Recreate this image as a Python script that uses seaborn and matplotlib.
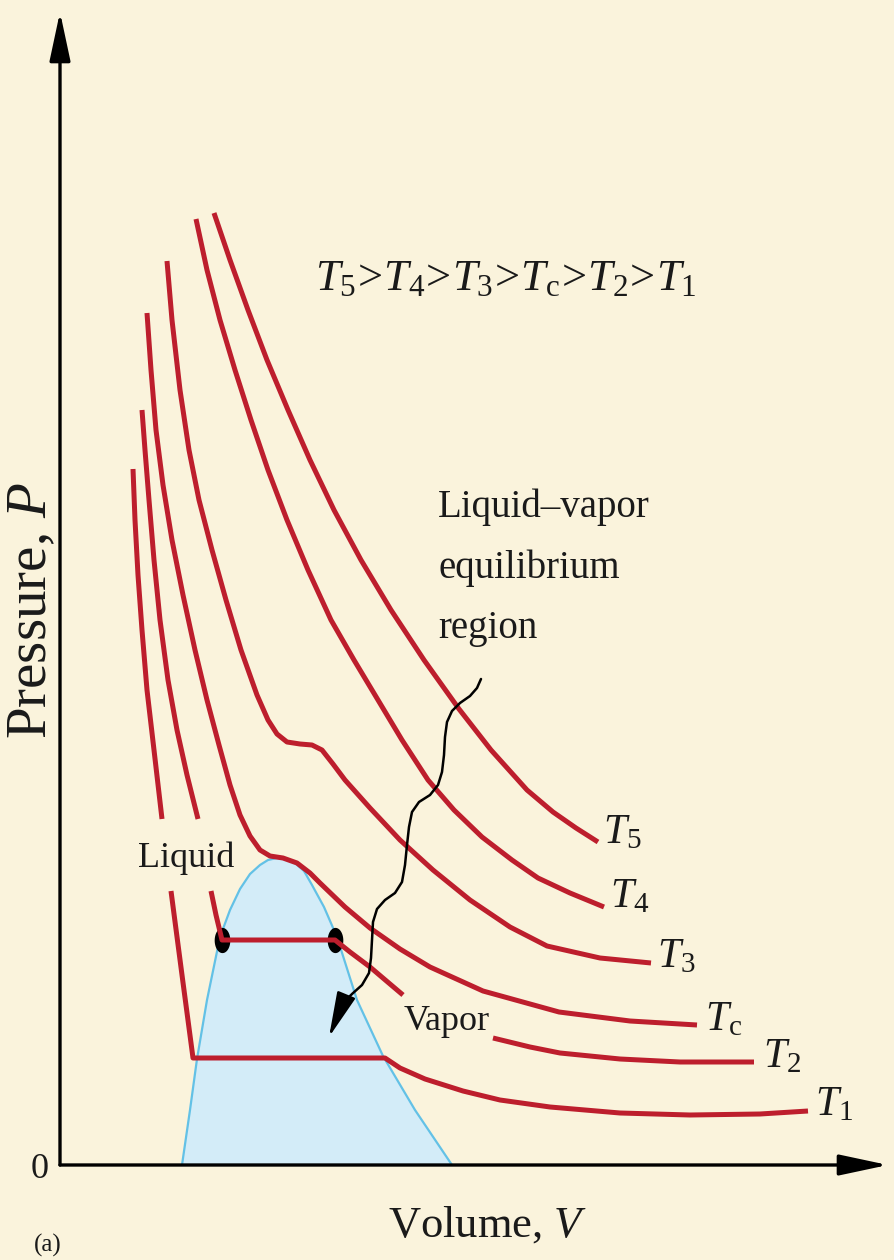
import numpy as np
import pandas as pd
import matplotlib
matplotlib.use("Agg")
import matplotlib.pyplot as plt
import seaborn as sns
from matplotlib.path import Path

# ---- Isotherms of a real gas: volume V and pressure P (arbitrary units) ----
# NaN marks a break in a drawn line (where a label sits on the curve)
nan = np.nan
T5_V = [1.54, 1.70, 1.88, 2.07, 2.28, 2.50, 2.74, 3.01, 3.31, 3.64, 3.99, 4.31, 4.67,
        4.93, 5.16, 5.38]
T5_P = [9.52, 9.05, 8.55, 8.05, 7.55, 7.05, 6.55, 6.05, 5.55, 5.05, 4.56, 4.15, 3.75,
        3.53, 3.37, 3.23]

T4_V = [1.36, 1.47, 1.60, 1.75, 1.91, 2.08, 2.27, 2.48, 2.71, 2.94, 3.18, 3.42, 3.68,
        3.94, 4.22, 4.52, 4.78, 5.10, 5.44]
T4_P = [9.46, 8.95, 8.45, 7.95, 7.45, 6.95, 6.45, 5.95, 5.45, 5.05, 4.65, 4.25, 3.85,
        3.55, 3.28, 3.05, 2.87, 2.72, 2.58]

T3_V = [1.07, 1.12, 1.20, 1.29, 1.39, 1.52, 1.66, 1.81, 1.97, 2.08, 2.17, 2.27, 2.40,
        2.52, 2.62, 2.73, 2.85, 3.10, 3.40, 3.73, 4.10, 4.50, 4.87, 5.40, 5.91]
T3_P = [9.04, 8.45, 7.75, 7.15, 6.65, 6.15, 5.65, 5.15, 4.70, 4.45, 4.31, 4.23, 4.21,
        4.20, 4.15, 4.01, 3.85, 3.57, 3.25, 2.95, 2.65, 2.38, 2.19, 2.07, 2.02]

TC_V = [0.87, 0.91, 0.96, 1.03, 1.12, 1.23, 1.35, 1.47, 1.59, 1.70, 1.80, 1.90, 2.00,
        2.10, 2.23, 2.37, 2.50, 2.60, 2.85, 3.10, 3.40, 3.70, 4.23, 4.99, 5.70, 6.37]
TC_P = [8.52, 7.95, 7.35, 6.80, 6.25, 5.70, 5.15, 4.65, 4.20, 3.80, 3.50, 3.29, 3.15,
        3.09, 3.07, 3.02, 2.92, 2.82, 2.58, 2.37, 2.16, 1.98, 1.74, 1.53, 1.44, 1.40]

T2_V = [0.82, 0.85, 0.89, 0.94, 1.00, 1.08, 1.17, 1.27, 1.38, nan,
        1.51, 1.56, 1.62, 2.18, 2.75, 2.90, 3.10, 3.30, 3.43, nan,
        4.33, 4.70, 5.00, 5.60, 6.20, 6.94]
T2_P = [7.55, 7.15, 6.65, 6.05, 5.45, 4.85, 4.35, 3.90, 3.46, nan,
        2.74, 2.50, 2.25, 2.25, 2.25, 2.13, 1.98, 1.81, 1.70, nan,
        1.27, 1.18, 1.12, 1.06, 1.03, 1.03]

T1_V = [0.73, 0.75, 0.78, 0.82, 0.87, 0.94, 1.02, nan,
        1.11, 1.22, 1.33, 2.30, 3.25, 3.40, 3.65, 4.03, 4.40, 4.90, 5.60, 6.30, 7.00, 7.48]
T1_P = [6.96, 6.45, 5.90, 5.35, 4.75, 4.15, 3.46, nan,
        2.74, 1.90, 1.07, 1.07, 1.07, 0.97, 0.86, 0.74, 0.65, 0.58, 0.52, 0.50, 0.51, 0.54]

# Liquid-vapor coexistence dome
DOME_V = [1.22, 1.30, 1.37, 1.47, 1.60, 1.70, 1.80, 1.90, 2.00, 2.08, 2.17, 2.26, 2.35,
          2.44, 2.52, 2.64, 2.77, 2.97, 3.23, 3.55, 3.92]
DOME_P = [0.00, 0.55, 1.06, 1.65, 2.28, 2.55, 2.76, 2.91, 3.00, 3.05, 3.07, 3.06, 3.02,
          2.94, 2.80, 2.58, 2.28, 1.65, 1.09, 0.55, 0.00]

# Saturated liquid / saturated vapor points on the T2 isotherm
SAT_V = [1.62, 2.75]
SAT_P = [2.25, 2.25]

# Wavy pointer into the coexistence region
WAVE_V = [4.21, 4.17, 4.10, 4.00, 3.92, 3.87, 3.85, 3.84, 3.82, 3.78, 3.70, 3.59, 3.52,
          3.49, 3.47, 3.45, 3.42, 3.35, 3.25, 3.17, 3.13, 3.12, 3.11, 3.09, 3.02, 2.92, 2.83]
WAVE_P = [4.86, 4.77, 4.69, 4.62, 4.54, 4.43, 4.28, 4.10, 3.93, 3.80, 3.70, 3.63, 3.53,
          3.38, 3.20, 3.00, 2.83, 2.72, 2.65, 2.56, 2.43, 2.25, 2.07, 1.92, 1.80, 1.71, 1.62]
WAVE_TIP = (2.69, 1.28)

CURVE_NAMES = ["T5", "T4", "T3", "Tc", "T2", "T1"]
CURVE_LABELS = [r"$T_5$", r"$T_4$", r"$T_3$", r"$T_\mathrm{c}$", r"$T_2$", r"$T_1$"]
LABEL_POS = [(5.43, 3.22), (5.50, 2.58), (5.97, 1.98), (6.45, 1.35), (7.03, 0.98), (7.55, 0.50)]

REGION_LINES = ["Liquid\u2013vapor", "equilibrium", "region"]
REGION_BASELINES = [6.48, 5.87, 5.27]

RED = "#bd1e2d"
BG = "#faf3dc"
DOME_FILL = "#d3ecf8"
DOME_EDGE = "#63c1e6"
INK = "#1a1a1a"

sns.set_style("white")
plt.rcParams["font.family"] = ["Liberation Serif", "DejaVu Serif"]
plt.rcParams["mathtext.fontset"] = "custom"
plt.rcParams["mathtext.rm"] = "Liberation Serif"
plt.rcParams["mathtext.it"] = "Liberation Serif:italic"
plt.rcParams["mathtext.bf"] = "Liberation Serif:bold"

# long-form table of all isotherm segments
curves = {"T5": (T5_V, T5_P), "T4": (T4_V, T4_P), "T3": (T3_V, T3_P),
          "Tc": (TC_V, TC_P), "T2": (T2_V, T2_P), "T1": (T1_V, T1_P)}
rows = []
seg = 0
for name in CURVE_NAMES:
    vs, ps = curves[name]
    seg += 1
    for v, p in zip(vs, ps):
        if np.isnan(v):
            seg += 1
            continue
        rows.append((name, seg, v, p))
iso = pd.DataFrame(rows, columns=["curve", "seg", "V", "P"])

fig = plt.figure(figsize=(8.95, 12.6), dpi=100)
fig.patch.set_facecolor(BG)
ax = fig.add_axes([0, 0, 1, 1])
ax.set_facecolor(BG)
ax.set_xlim(-0.6, 8.35)
ax.set_ylim(-0.95, 11.65)
ax.axis("off")

# coexistence dome
ax.fill(DOME_V, DOME_P, facecolor=DOME_FILL, edgecolor="none", zorder=1)
sns.lineplot(x=DOME_V, y=DOME_P, sort=False, estimator=None, color=DOME_EDGE,
             lw=1.6, ax=ax, zorder=2)

# saturation points
theta = np.linspace(0, 2 * np.pi, 60)
ellipse = Path(np.column_stack([0.62 * np.cos(theta), np.sin(theta)]), closed=True)
sns.scatterplot(x=SAT_V, y=SAT_P, marker=ellipse, s=330, color="black",
                edgecolor="black", linewidth=0, ax=ax, zorder=3)

# isotherms
sns.lineplot(data=iso, x="V", y="P", units="seg", estimator=None, sort=False,
             color=RED, lw=3.6, solid_capstyle="butt", solid_joinstyle="round",
             ax=ax, zorder=4, legend=False)

# axes with arrowheads
axis_arrow = dict(arrowstyle="-|>,head_length=1.5,head_width=0.32", lw=2.4,
                  color="black", shrinkA=0, shrinkB=0, mutation_scale=20)
ax.annotate("", xy=(0, 11.53), xytext=(0, 0), arrowprops=axis_arrow, zorder=6)
ax.annotate("", xy=(8.28, 0), xytext=(0, 0), arrowprops=axis_arrow, zorder=6)

# wavy pointer
sns.lineplot(x=WAVE_V, y=WAVE_P, sort=False, estimator=None, color="black", lw=1.8,
             solid_joinstyle="round", ax=ax, zorder=5)
ax.annotate("", xy=WAVE_TIP, xytext=(WAVE_V[-1], WAVE_P[-1]),
            arrowprops=dict(arrowstyle="-|>,head_length=1.4,head_width=0.3", lw=1.8,
                            color="black", shrinkA=0, shrinkB=0, mutation_scale=20),
            zorder=5)

# texts
for lab, (x, y) in zip(CURVE_LABELS, LABEL_POS):
    ax.text(x, y, lab, fontsize=30, ha="left", va="baseline", color=INK)

ax.text(2.55, 8.75, r"$T_5\!>\!T_4\!>\!T_3\!>\!T_\mathrm{c}\!>\!T_2\!>\!T_1$",
        fontsize=32, ha="left", va="baseline", color=INK)
for line, base in zip(REGION_LINES, REGION_BASELINES):
    ax.text(3.78, base, line, fontsize=28, ha="left", va="baseline", color=INK)
ax.text(1.26, 3.07, "Liquid", fontsize=26, ha="center", va="center", color=INK)
ax.text(3.87, 1.43, "Vapor", fontsize=26, ha="center", va="center", color=INK)
ax.text(-0.28, 5.55, r"Pressure, $P$", fontsize=41, rotation=90, ha="center",
        va="center", color=INK)
ax.text(4.28, -0.60, r"Volume, $V$", fontsize=32, ha="center", va="center", color=INK)
ax.text(-0.20, -0.05, "0", fontsize=26, ha="center", va="center", color=INK)
ax.text(-0.12, -0.80, "(a)", fontsize=18, ha="center", va="center", color=INK)

fig.savefig("out.png", dpi=100, facecolor=BG)
